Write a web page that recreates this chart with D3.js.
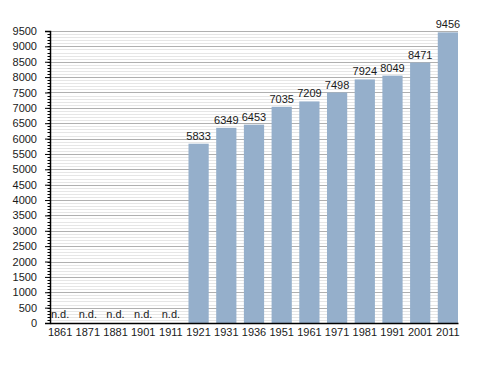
<!DOCTYPE html>
<html>
<head>
<meta charset="utf-8">
<script src="https://cdn.jsdelivr.net/npm/d3@7"></script>
<style>
  body { margin: 0; background: #fff; }
  text { font-family: "Liberation Sans", Arial, sans-serif; fill: #1a1a1a; }
</style>
</head>
<body>
<script>
// census years and population (null = no data)
var years = ["1861", "1871", "1881", "1901", "1911", "1921", "1931", "1936",
             "1951", "1961", "1971", "1981", "1991", "2001", "2011"];
var population = [null, null, null, null, null, 5833, 6349, 6453,
                  7035, 7209, 7498, 7924, 8049, 8471, 9456];
var yTicks = d3.range(0, 9501, 500);
var yMinor = d3.range(0, 9501, 100);

var W = 488, H = 373;
var plot = {left: 50, right: 458, top: 31, bottom: 323};

var svg = d3.select("body").append("svg")
    .attr("width", W)
    .attr("height", H);

var x = d3.scaleBand()
    .domain(years)
    .range([plot.left, plot.right])
    .paddingInner(0.27)
    .paddingOuter(0);

var y = d3.scaleLinear()
    .domain([0, 9500])
    .range([plot.bottom, plot.top]);

// minor grid
svg.append("g").selectAll("line")
    .data(yMinor.filter(function(d) { return d % 500 != 0; }))
    .enter().append("line")
    .attr("x1", plot.left).attr("x2", plot.right)
    .attr("y1", function(d) { return Math.round(y(d)) + 0.5; })
    .attr("y2", function(d) { return Math.round(y(d)) + 0.5; })
    .attr("stroke", "#e6e6e6");

// major grid
svg.append("g").selectAll("line")
    .data(yTicks.slice(1))
    .enter().append("line")
    .attr("x1", plot.left).attr("x2", plot.right)
    .attr("y1", function(d) { return Math.round(y(d)) + 0.5; })
    .attr("y2", function(d) { return Math.round(y(d)) + 0.5; })
    .attr("stroke", "#b0b0b0");

// bars
svg.append("g").selectAll("rect")
    .data(years.filter(function(d, i) { return population[i] != null; }))
    .enter().append("rect")
    .attr("x", function(d) { return x(d); })
    .attr("width", x.bandwidth())
    .attr("y", function(d) { return y(population[years.indexOf(d)]); })
    .attr("height", function(d) { return plot.bottom - y(population[years.indexOf(d)]); })
    .attr("fill", "#95afcb");

// value labels
svg.append("g").selectAll("text")
    .data(years)
    .enter().append("text")
    .attr("x", function(d) { return x(d) + x.bandwidth() / 2; })
    .attr("y", function(d, i) {
      return population[i] == null ? plot.bottom - 5 : y(population[i]) - 4;
    })
    .attr("text-anchor", "middle")
    .style("font-size", "11px")
    .text(function(d, i) { return population[i] == null ? "n.d." : population[i]; });

// y axis
var yAxis = svg.append("g")
    .attr("transform", "translate(" + plot.left + ",0)")
    .call(d3.axisLeft(y).tickValues(yTicks).tickSize(5).tickPadding(8).tickFormat(d3.format("d")));
yAxis.selectAll("text").style("font-size", "11px");
yAxis.select(".domain").attr("stroke", "#000").attr("stroke-width", 1.5);

yAxis.append("g").selectAll("line")
    .data(yMinor)
    .enter().append("line")
    .attr("x1", -2.5).attr("x2", 0)
    .attr("y1", function(d) { return Math.round(y(d)) + 0.5; })
    .attr("y2", function(d) { return Math.round(y(d)) + 0.5; })
    .attr("stroke", "#000");

// x axis
var xAxis = svg.append("g")
    .attr("transform", "translate(0," + plot.bottom + ")")
    .call(d3.axisBottom(x).tickSize(0).tickPadding(5));
xAxis.selectAll("text").style("font-size", "11px");
xAxis.select(".domain").attr("stroke", "#000").attr("stroke-width", 1.5);
</script>
</body>
</html>
